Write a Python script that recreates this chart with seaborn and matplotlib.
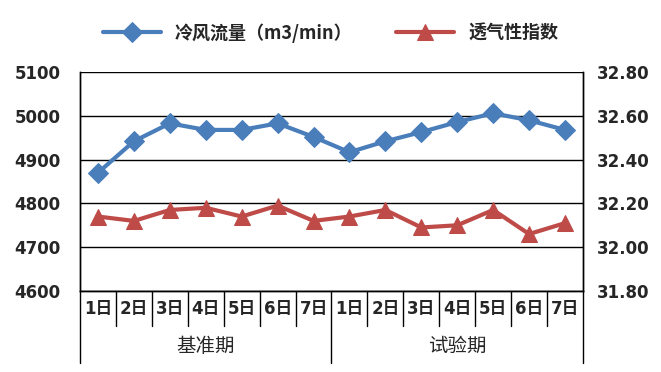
import seaborn as sns
import matplotlib.pyplot as plt
import matplotlib.transforms as mtransforms
import pandas as pd

# datos
dias = ['1日', '2日', '3日', '4日', '5日', '6日', '7日',
        '1日', '2日', '3日', '4日', '5日', '6日', '7日']
periodos = ['基准期', '试验期']
flujo = [4870, 4942, 4983, 4968, 4968, 4983, 4952,
         4917, 4942, 4963, 4986, 5006, 4990, 4968]
permeabilidad = [32.14, 32.12, 32.17, 32.18, 32.14, 32.19, 32.12,
                 32.14, 32.17, 32.09, 32.10, 32.17, 32.06, 32.11]

datos = pd.DataFrame({'pos': range(len(dias)), 'flujo': flujo,
                      'perm': permeabilidad})

sns.set_style('white')
plt.rcParams['font.family'] = ['DejaVu Sans', 'Noto Sans CJK SC']

azul = '#4A7EBB'
rojo = '#BE4B48'

fig = plt.figure(figsize=(6.61, 3.72), dpi=100)
ax = fig.add_axes([0.121, 0.218, 0.761, 0.588])
ax2 = ax.twinx()

sns.lineplot(data=datos, x='pos', y='flujo', ax=ax, color=azul, lw=3,
             marker='D', markersize=10, markeredgecolor=azul,
             label='冷风流量（m3/min）', legend=False)
sns.lineplot(data=datos, x='pos', y='perm', ax=ax2, color=rojo, lw=3,
             marker='^', markersize=12, markeredgecolor=rojo,
             label='透气性指数', legend=False)

ax.set_ylim(4600, 5100)
ax.set_yticks(range(4600, 5101, 100))
ax2.set_ylim(31.8, 32.8)
ax2.set_yticks([31.8, 32.0, 32.2, 32.4, 32.6, 32.8])
ax2.set_yticklabels([f'{v:.2f}' for v in ax2.get_yticks()])
ax.set_xlim(-0.5, len(dias) - 0.5)

ax.grid(axis='y', color='black', lw=1)
ax.grid(axis='x', visible=False)
ax2.grid(False)
for a in (ax, ax2):
    a.set_xlabel('')
    a.set_ylabel('')
    for s in a.spines.values():
        s.set_color('black')
        s.set_linewidth(1)
    a.spines['top'].set_visible(False)

ax.tick_params(axis='y', length=0, pad=14, labelsize=12)
ax2.tick_params(axis='y', length=0, pad=10, labelsize=12)
for t in ax.get_yticklabels() + ax2.get_yticklabels():
    t.set_fontweight('bold')

# eje de categorias de dos niveles
ax.set_xticks([i - 0.5 for i in range(len(dias) + 1)])
ax.set_xticklabels([])
ax.tick_params(axis='x', direction='in', length=7, width=1, color='black')
trans = mtransforms.blended_transform_factory(ax.transData, ax.transAxes)
for i in range(1, len(dias)):
    if i == 7:
        continue
    ax.plot([i - 0.5, i - 0.5], [0, -0.16], transform=trans, color='black',
            lw=1, clip_on=False)
for xs in (-0.5, 6.5, 13.5):
    ax.plot([xs, xs], [0, -0.33], transform=trans, color='black',
            lw=1, clip_on=False)
for i, d in enumerate(dias):
    ax.text(i, -0.085, d, transform=trans, ha='center', va='center',
            fontsize=12, fontweight='bold')
for j, p in enumerate(periodos):
    ax.text(3 + 7 * j, -0.255, p, transform=trans, ha='center', va='center',
            fontsize=14, family=['Noto Sans CJK SC'])

h1, l1 = ax.get_legend_handles_labels()
h2, l2 = ax2.get_legend_handles_labels()
fig.legend(h1 + h2, l1 + l2, loc='center', bbox_to_anchor=(0.5, 0.912),
           ncol=2, frameon=False, handlelength=3.2, columnspacing=2.4,
           prop={'family': ['Noto Sans CJK SC'], 'size': 13, 'weight': 'bold'})

fig.savefig('out.png', dpi=100)
